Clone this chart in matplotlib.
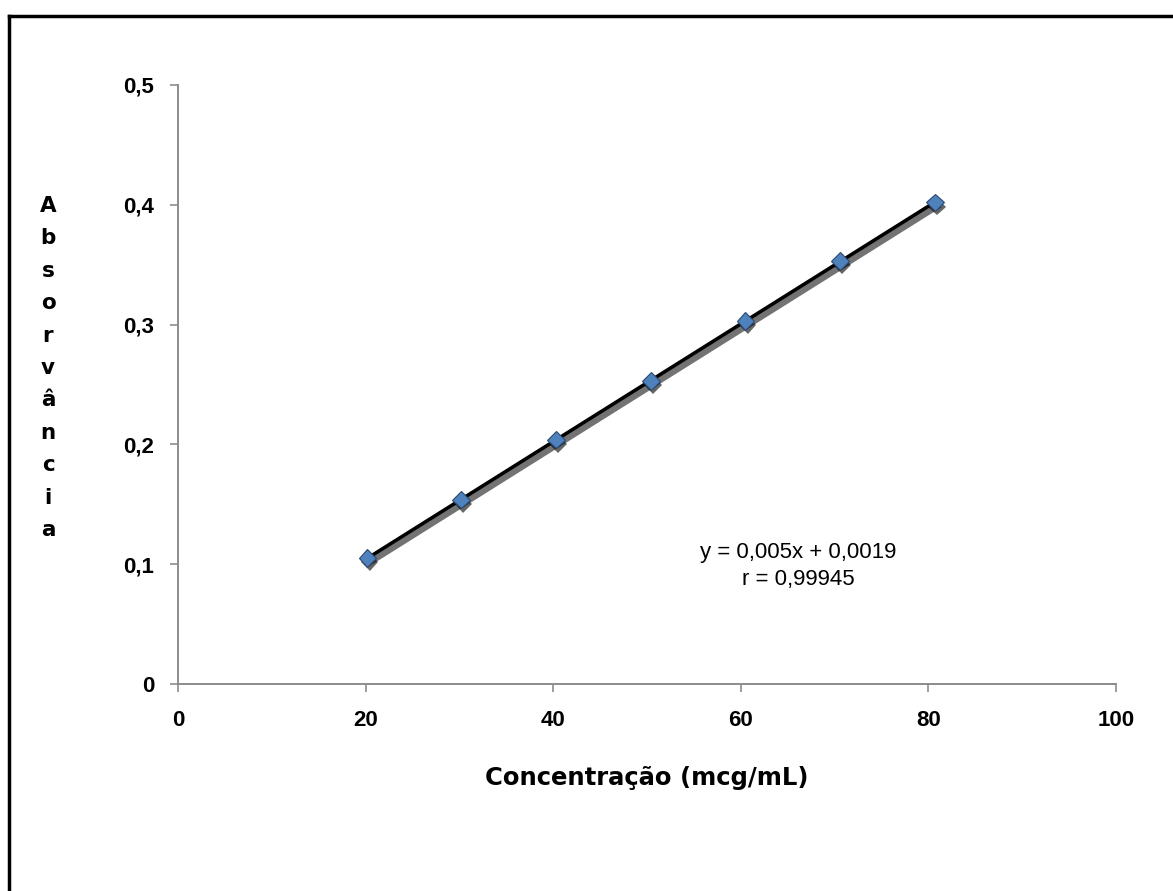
import numpy as np
import matplotlib
matplotlib.use('Agg')
import matplotlib.pyplot as plt
import matplotlib.patheffects as pe
from matplotlib.lines import Line2D

# dados
concentracao = [20.2, 30.2, 40.3, 50.4, 60.5, 70.6, 80.7]
absorvancia = [0.105, 0.154, 0.204, 0.253, 0.303, 0.353, 0.402]
equacao = 'y = 0,005x + 0,0019'
coef_r = 'r = 0,99945'
xticks = [0, 20, 40, 60, 80, 100]
yticks = [0, 0.1, 0.2, 0.3, 0.4, 0.5]
ytick_labels = ['0', '0,1', '0,2', '0,3', '0,4', '0,5']

fig = plt.figure(figsize=(11.73, 8.91), dpi=100)
ax = fig.add_axes([178/1173, 1-684/891, 938/1173, 599/891])

# moldura (só topo e esquerda visíveis)
fig.add_artist(Line2D([9/1173, 9/1173], [0, 1-16/891], transform=fig.transFigure, color='black', lw=2.5))
fig.add_artist(Line2D([9/1173, 1], [1-16/891, 1-16/891], transform=fig.transFigure, color='black', lw=2.5))

# linha de tendência com sombra
a, b = np.polyfit(concentracao, absorvancia, 1)
xs = np.array([concentracao[0], concentracao[-1]])
sombra = [pe.SimpleLineShadow(offset=(1.5, -3), shadow_color='black', alpha=0.55, linewidth=4.5), pe.Normal()]
ax.plot(xs, a * xs + b, color='black', lw=2.6, path_effects=sombra, zorder=2)
sombra_m = [pe.SimplePatchShadow(offset=(1.5, -3), shadow_rgbFace='black', alpha=0.6), pe.Normal()]
ax.plot(concentracao, absorvancia, linestyle='none', marker='D', markersize=9,
        markerfacecolor='#4F81BD', markeredgecolor='#2a4a72', markeredgewidth=0.8,
        path_effects=sombra_m, zorder=3)

ax.set_xlim(0, 100)
ax.set_ylim(0, 0.5)
ax.set_xticks(xticks)
ax.set_xticklabels([str(v) for v in xticks])
ax.set_yticks(yticks)
ax.set_yticklabels(ytick_labels)
for s in ['top', 'right']:
    ax.spines[s].set_visible(False)
for s in ['left', 'bottom']:
    ax.spines[s].set_color('#8c8c8c')
    ax.spines[s].set_linewidth(1.4)
ax.tick_params(direction='out', length=6, width=1.2, color='#8c8c8c')
for lab in ax.get_xticklabels() + ax.get_yticklabels():
    lab.set_family('Liberation Sans')
    lab.set_fontstretch('normal')
    lab.set_fontweight('bold')
    lab.set_fontsize(16)
ax.tick_params(axis='x', pad=13)
ax.tick_params(axis='y', pad=11)

fig.text(798/1173, 1-566/891, equacao + '\n' + coef_r, ha='center', va='center',
         fontsize=16, family='Liberation Sans', fontstretch='normal', linespacing=1.35)

fig.text(647/1173, 1-778/891, 'Concentração (mcg/mL)', ha='center', va='center',
         fontsize=17.5, fontweight='bold', family='DejaVu Sans')
fig.text(48/1173, 1-368/891, '\n'.join('Absorvância'), ha='center', va='center',
         fontsize=15.5, fontweight='bold', family='DejaVu Sans', linespacing=1.78)

fig.savefig('out.png', dpi=100)
